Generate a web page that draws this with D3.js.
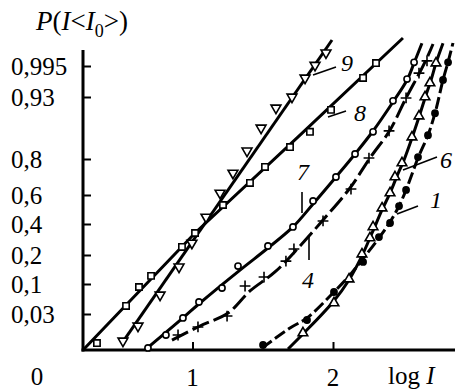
<!DOCTYPE html>
<html><head><meta charset="utf-8">
<script src="https://cdn.jsdelivr.net/npm/d3@7"></script>
<style>body{margin:0;background:#fff} svg{display:block}</style>
</head><body><svg id="c" width="455" height="391"></svg>
<script>
// ---- data ----
const yTickValues = [0.03, 0.1, 0.2, 0.4, 0.6, 0.8, 0.93, 0.995];
const yTickLabels = ["0,03", "0,1", "0,2", "0,4", "0,6", "0,8", "0,93", "0,995"];
const xTickValues = [1, 2];
const xTickLabels = ["1", "2"];

// curve 9 (down triangles): fitted line + points  [log I, P]
const line9 = [[0.498, 0.0058], [1.993, 0.99854]];
const pts9 = [[0.505,0.0075],[0.612,0.020],[0.769,0.0743],[0.904,0.159],[0.996,0.277],[1.096,0.448],[1.196,0.611],[1.288,0.722],[1.388,0.817],[1.488,0.865],[1.594,0.907],[1.708,0.93],[1.801,0.970],[1.872,0.9951],[1.95,0.9968]];
// curve 8 (squares)
const line8 = [[0.221,0],[1.018,0.342],[1.765,0.850],[2.498,0.99881]];
const pts8 = [[0.320,0.0058],[0.527,0.0487],[0.619,0.093],[0.705,0.128],[0.925,0.252],[1.018,0.342],[1.217,0.531],[1.409,0.667],[1.516,0.756],[1.694,0.825],[1.836,0.857],[1.986,0.903],[2.214,0.970],[2.306,0.9954]];
// curve 7 (open circles)
const line7 = [[0.662,0],[0.932,0.0267],[1.053,0.0557],[1.338,0.148],[1.537,0.245],[1.715,0.381],[1.858,0.538],[2.021,0.7],[2.157,0.8105],[2.285,0.8587],[2.427,0.9196],[2.527,0.9656],[2.577,0.9954],[2.633,0.9981]];
const pts7 = [[0.683,0.0017],[0.811,0.0125],[0.932,0.0267],[1.046,0.058],[1.21,0.0907],[1.324,0.162],[1.537,0.258],[1.715,0.381],[1.858,0.559],[2.021,0.7],[2.157,0.8105],[2.285,0.857],[2.427,0.922],[2.527,0.9677],[2.577,0.9955]];
// curve 4 (plus)
const line4 = [[0.854,0.0083],[1.053,0.02],[1.253,0.0323],[1.409,0.0837],[1.587,0.1414],[1.765,0.258],[1.929,0.4276],[2.121,0.6389],[2.263,0.8021],[2.406,0.8608],[2.520,0.9279],[2.619,0.9824],[2.669,0.9961],[2.712,0.998]];
const pts4 = [[0.897,0.0125],[1.039,0.0192],[1.246,0.0283],[1.374,0.0953],[1.509,0.124],[1.665,0.179],[1.722,0.239],[1.929,0.421],[2.128,0.633],[2.256,0.802],[2.399,0.859],[2.52,0.928],[2.612,0.980],[2.669,0.9957]];
// curve 1 (filled dots)
const line1 = [[1.495,0.00167],[1.694,0.0183],[1.815,0.0267],[2.0,0.079],[2.121,0.131],[2.206,0.183],[2.327,0.31],[2.406,0.414],[2.47,0.524],[2.52,0.628],[2.605,0.802],[2.676,0.850],[2.726,0.896],[2.783,0.9657],[2.819,0.99554],[2.854,0.99813]];
const pts1 = [[1.502,0.0042],[1.815,0.025],[2.007,0.0813],[2.214,0.176],[2.327,0.316],[2.406,0.407],[2.47,0.524],[2.52,0.628],[2.605,0.804],[2.676,0.850],[2.726,0.896],[2.783,0.9657],[2.819,0.9955]];
// curve 6 (up triangles)
const line6 = [[1.68,0.00083],[1.786,0.0133],[2.0,0.058],[2.114,0.114],[2.206,0.197],[2.278,0.342],[2.349,0.497],[2.406,0.611],[2.456,0.706],[2.505,0.794],[2.562,0.844],[2.612,0.888],[2.655,0.928],[2.698,0.9657],[2.733,0.9954],[2.783,0.9981]];
const pts6 = [[1.786,0.0142],[2.007,0.0557],[2.114,0.117],[2.206,0.206],[2.263,0.31],[2.285,0.381],[2.349,0.51],[2.406,0.611],[2.441,0.7],[2.491,0.778],[2.562,0.846],[2.612,0.89],[2.655,0.93],[2.69,0.9594],[2.733,0.9954]];

// ---- scales ----
const svg = d3.select("#c");
const x = d3.scaleLinear().domain([1, 2]).range([192.5, 333]);
// probability-paper ordinate (non-uniform grid as drawn)
const y = d3.scaleLinear()
  .domain([0, 0.03, 0.1, 0.2, 0.4, 0.6, 0.8, 0.93, 0.995, 0.9999])
  .range([350, 314, 284, 255, 224, 195, 159, 97, 66, 30]);

const axisX0 = 83, axisTop = 50, axisBottom = 350;
const serif = "'Liberation Serif', 'DejaVu Serif', serif";

// ---- axes ----
const gy = svg.append("g").attr("transform", `translate(${axisX0},0)`)
  .call(d3.axisRight(y).tickValues(yTickValues).tickSize(8).tickFormat(""));
gy.select(".domain").remove();
gy.selectAll(".tick line").attr("stroke", "#000").attr("stroke-width", 2);

const gx = svg.append("g").attr("transform", `translate(0,${axisBottom})`)
  .call(d3.axisTop(x).tickValues(xTickValues).tickSize(8).tickFormat(""));
gx.select(".domain").remove();
gx.selectAll(".tick line").attr("stroke", "#000").attr("stroke-width", 2);

svg.append("line").attr("x1", axisX0).attr("x2", axisX0).attr("y1", axisTop).attr("y2", axisBottom + 1.5)
  .attr("stroke", "#000").attr("stroke-width", 3);
svg.append("line").attr("x1", axisX0 - 1.5).attr("x2", 455).attr("y1", axisBottom).attr("y2", axisBottom)
  .attr("stroke", "#000").attr("stroke-width", 3);

// tick labels
svg.append("g").selectAll("text").data(yTickValues).join("text")
  .attr("x", 11).attr("y", d => y(d)).attr("dy", "0.35em")
  .attr("font-family", serif).attr("font-size", 25).attr("fill", "#000")
  .text((d, i) => yTickLabels[i]);
svg.append("g").selectAll("text").data(xTickValues).join("text")
  .attr("x", d => x(d)).attr("y", 377).attr("dy", "0.35em").attr("text-anchor", "middle")
  .attr("font-family", serif).attr("font-size", 25).attr("fill", "#000")
  .text((d, i) => xTickLabels[i]);
svg.append("text").attr("x", 37).attr("y", 376).attr("dy", "0.35em").attr("text-anchor", "middle")
  .attr("font-family", serif).attr("font-size", 25).text("0");

// axis titles
const ty = svg.append("text").attr("x", 36).attr("y", 30)
  .attr("font-family", serif).attr("font-size", 27);
ty.append("tspan").attr("font-style", "italic").text("P");
ty.append("tspan").text("(");
ty.append("tspan").attr("font-style", "italic").text("I");
ty.append("tspan").text("<");
ty.append("tspan").attr("font-style", "italic").text("I");
ty.append("tspan").attr("font-size", 18).attr("dy", 7).text("0");
ty.append("tspan").attr("dy", -7).text(">)");

const tx = svg.append("text").attr("x", 388).attr("y", 384)
  .attr("font-family", serif).attr("font-size", 25);
tx.append("tspan").text("log ");
tx.append("tspan").attr("font-style", "italic").text("I");

// ---- lines ----
const gen = d3.line().x(d => x(d[0])).y(d => y(d[1]));
const smooth = d3.line().x(d => x(d[0])).y(d => y(d[1])).curve(d3.curveCatmullRom.alpha(0.5));
const lineSpecs = [
  {d: line9, g: gen, dash: null},
  {d: line8, g: gen, dash: null},
  {d: line7, g: smooth, dash: null},
  {d: line4, g: smooth, dash: "18,5"},
  {d: line1, g: smooth, dash: "12,4"},
  {d: line6, g: smooth, dash: null}
];
svg.append("g").selectAll("path").data(lineSpecs).join("path")
  .attr("d", s => s.g(s.d)).attr("fill", "none").attr("stroke", "#000")
  .attr("stroke-width", 3).attr("stroke-dasharray", s => s.dash);

// ---- markers ----
function markers(data, type, size, fill, rot) {
  svg.append("g").selectAll("path").data(data).join("path")
    .attr("transform", d => `translate(${x(d[0])},${y(d[1])})` + (rot ? ` rotate(${rot})` : ""))
    .attr("d", d3.symbol().type(type).size(size))
    .attr("fill", fill).attr("stroke", "#000").attr("stroke-width", 1.6);
}
markers(pts9, d3.symbolTriangle, 42, "#fff", 180);
markers(pts8, d3.symbolSquare, 40, "#fff");
markers(pts7, d3.symbolCircle, 30, "#fff");
markers(pts4, d3.symbolPlus, 40, "none");
markers(pts1, d3.symbolCircle, 30, "#000");
markers(pts6, d3.symbolTriangle, 40, "#fff");

// ---- curve labels with leader lines ----
const labels = ["9", "8", "7", "4", "1", "6"];
const labelPos = [[347, 63], [360, 113], [303, 172], [308, 280], [436, 200], [446, 160]];
const leaders = [[313,75,336,67],[328,117,346,111],[302,192,302,213],[309,235,309,260],[397,214,418,206],[403,170,437,157]];
svg.append("g").selectAll("line").data(leaders).join("line")
  .attr("x1", d => d[0]).attr("y1", d => d[1]).attr("x2", d => d[2]).attr("y2", d => d[3])
  .attr("stroke", "#000").attr("stroke-width", 1.6);
svg.append("g").selectAll("text").data(labels).join("text")
  .attr("x", (d, i) => labelPos[i][0]).attr("y", (d, i) => labelPos[i][1]).attr("dy", "0.35em")
  .attr("text-anchor", "middle").attr("font-family", serif).attr("font-style", "italic")
  .attr("font-size", 24).text(d => d);
</script>
</body></html>
